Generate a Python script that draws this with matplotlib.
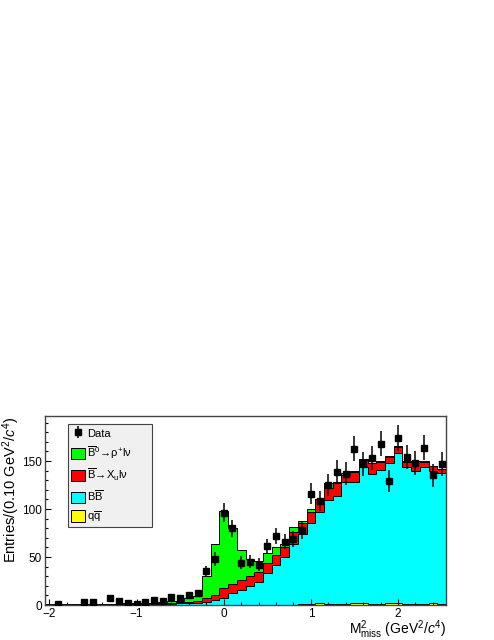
import numpy as np
import matplotlib
matplotlib.use("Agg")
import matplotlib.pyplot as plt
from matplotlib.patches import Patch

plt.rcParams['font.family'] = ['Liberation Sans', 'DejaVu Sans']
plt.rcParams['mathtext.fontset'] = 'custom'
plt.rcParams['mathtext.rm'] = 'Liberation Sans'
plt.rcParams['mathtext.it'] = 'Liberation Sans:italic'
plt.rcParams['mathtext.bf'] = 'Liberation Sans:bold'

# bins of 0.1 GeV^2/c^4, centres -2.0 ... 2.5
edges = np.linspace(-2.05, 2.55, 47)
centers = 0.5*(edges[:-1]+edges[1:])

data = np.array([0, 1, 0, 0, 3, 3, 0, 7, 4, 2, 1, 3, 5, 4, 8, 7, 10, 12, 35, 48, 96,
                 80, 44, 45, 42, 61, 72, 66, 69,
                 78, 116, 108, 125, 139, 137, 163, 147, 153, 168, 129, 174, 154, 148, 164, 135, 147])

qq = np.array([0.2]*21 + [0.5]*8 +
              [1.2, 1.5, 2.0, 1.5, 1.0, 1.5, 1.8, 2.2, 1.5, 1.2, 1.8, 2.0, 1.5, 1.0, 1.5, 1.8, 1.5])

bb = np.array([0.1, 0.1, 0.2, 0.2, 0.3, 0.3, 0.4, 0.4, 0.5, 0.6, 0.7, 0.8, 0.9, 1.0, 1.2, 1.4, 1.8, 2.3, 3.3, 4.8, 6.8,
               11.5, 15.5, 19.5, 23.5, 32.5, 41.5, 49.5, 63.5,
               72.8, 83.5, 95.0, 107.5, 113.0, 126.5, 126.7, 141.8, 135.5, 139.4, 145.8, 156.0, 142.5, 139.0, 142.6, 138.1, 135.6])

xu = np.array([0.2, 0.2, 0.2, 0.2, 0.2, 0.3, 0.3, 0.4, 0.4, 0.4, 0.4, 0.5, 0.6, 0.8, 1.0, 1.2, 1.5, 2.0, 3.5, 5.5, 10.5,
               9.5, 10.0, 10.0, 10.7, 10.8, 10.0, 10.0, 12.0,
               11.8, 12.2, 13.0, 12.5, 12.7, 7.0, 10.4, 7.0, 10.6, 8.7, 6.9, 6.9, 5.3, 10.0, 5.2, 4.9, 4.6])

rho = np.array([0.1, 0.1, 0.1, 0.2, 0.2, 0.2, 0.2, 0.3, 0.3, 0.4, 0.5, 0.5, 0.6, 0.8, 1.6, 1.7, 4.0, 5.0, 23.0, 53.5, 80.5,
                58.5, 31.0, 18.0, 11.3, 10.2, 8.0, 4.0, 5.0,
                2.2, 2.8, 1.0, 5.2, 1.3, 2.8, 1.1, 1.0, 0.9, 0.7, 0.5, 0.6, 0.7, 0.5, 0.7, 0.5, 0.5])

labels = ["Data",
          r"$\mathrm{\overline{B}^0\!\rightarrow\!\rho^{+}l\nu}$",
          r"$\mathrm{\overline{B}\!\rightarrow\!X_u l\nu}$",
          r"$\mathrm{B\overline{B}}$",
          r"$\mathrm{q\overline{q}}$"]
colors = ["#00ff00", "#ff0000", "#00ffff", "#ffff00"]

fig = plt.figure(figsize=(4.94, 6.4), dpi=100)
ax = fig.add_axes([45/494, 35/640, 401/494, 189/640])

c1 = qq
c2 = c1 + bb
c3 = c2 + xu
c4 = c3 + rho
for lev, col in zip([c4, c3, c2, c1], colors):
    ax.stairs(lev, edges, baseline=0, fill=True, facecolor=col, edgecolor="black", linewidth=0.7)

m = data > 0
eb = ax.errorbar(centers[m], data[m], yerr=np.sqrt(data[m]), fmt='s', color='black',
                 ms=4.8, elinewidth=1.1, capsize=0, zorder=5)

ax.set_xlim(-2.05, 2.55)
ax.set_ylim(0, 197)
ax.set_xticks([-2, -1, 0, 1, 2])
ax.set_xticks(np.arange(-2.0, 2.55, 0.2), minor=True)
ax.set_yticks([0, 50, 100, 150])
ax.set_yticks(np.arange(0, 197, 10), minor=True)
ax.tick_params(which='both', direction='in', top=False, right=False, labelsize=8.5, pad=2)
ax.tick_params(which='major', length=4.5, width=0.8)
ax.tick_params(which='minor', length=2.2, width=0.8)
for s in ax.spines.values():
    s.set_color('#444444')
    s.set_linewidth(1.0)

ax.set_ylabel(r"Entries/(0.10 GeV$^2$/$\mathit{c}^4$)", fontsize=10.5, loc='top')
ax.yaxis.set_label_coords(-0.058, 1.0)
ax.set_xlabel(r"M$^2_{\mathrm{miss}}$ (GeV$^2$/$\mathit{c}^4$)", fontsize=10, loc='right')
ax.xaxis.set_label_coords(1.0, -0.073)

handles = [eb] + [Patch(facecolor=c, edgecolor='black', linewidth=0.7) for c in colors]
leg = ax.legend(handles, labels, loc='upper left', bbox_to_anchor=(0.057, 0.407, 0.21, 0.551),
                mode='expand', borderaxespad=0, fontsize=8, handlelength=1.2, handleheight=1.2,
                labelspacing=0.5, handletextpad=0.25, borderpad=0.3,
                fancybox=False, framealpha=1, facecolor='#f0f0f0', edgecolor='#444444')
leg.get_frame().set_linewidth(0.8)

fig.savefig("out.png", dpi=100)
